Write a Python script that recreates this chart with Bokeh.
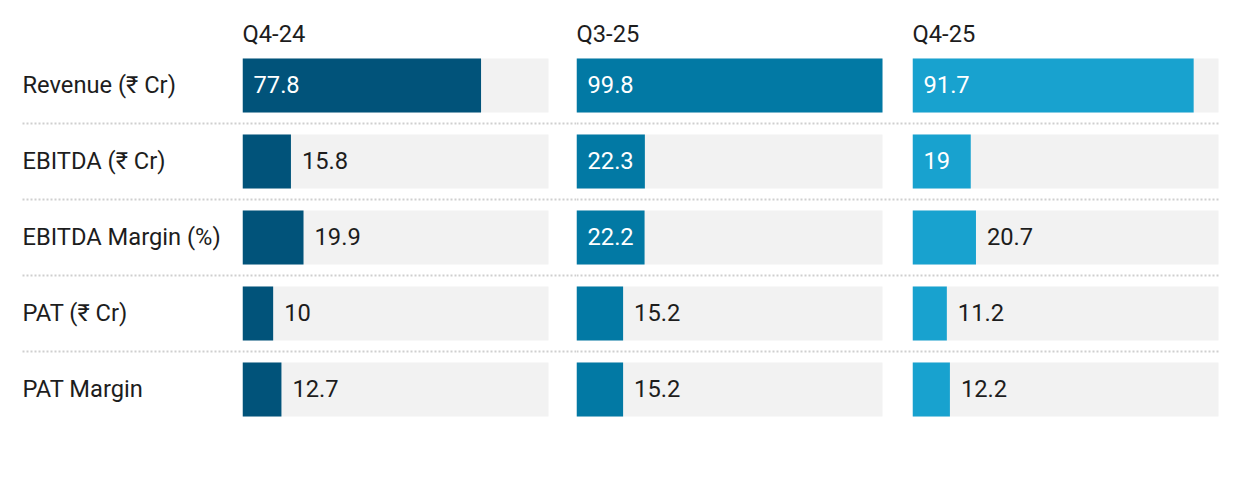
from bokeh.plotting import figure
from bokeh.layouts import row
from bokeh.models import Range1d
from bokeh.core.properties import value
from bokeh.embed import file_html
from bokeh.resources import INLINE

metrics = ["Revenue (₹ Cr)", "EBITDA (₹ Cr)", "EBITDA Margin (%)", "PAT (₹ Cr)", "PAT Margin"]
periods = ["Q4-24", "Q3-25", "Q4-25"]
q4_24 = [77.8, 15.8, 19.9, 10, 12.7]
q3_25 = [99.8, 22.3, 22.2, 15.2, 15.2]
q4_25 = [91.7, 19, 20.7, 11.2, 12.2]
series = [q4_24, q3_25, q4_25]
colors = ["#01537a", "#0279a4", "#18a2cf"]

FONT = "Roboto"
FS = "23.7px"
TXT = "#1d1d1d"
BG = "#f2f2f2"
SEP = "#cfcfcf"

H = 494
ROW_PX = 76
FIRST_ROW_PX = 85  # center of first row from top of figure
BAR_PX = 54
BAR_W = 306
LABEL_W = 242
COL_WS = [334, 336, 312]

vmax = max(max(s) for s in series)

def fmt(v):
    return ("%g" % v)

y_top = -FIRST_ROW_PX / ROW_PX
y_bot = (H - FIRST_ROW_PX) / ROW_PX
bar_h = BAR_PX / ROW_PX
rows_y = list(range(len(metrics)))
sep_y = [i + 0.5 for i in range(len(metrics) - 1)]
header_y = y_top + 33 / ROW_PX

def base_fig(width, xr):
    return figure(width=width, height=H, x_range=xr, y_range=Range1d(y_bot, y_top),
                  x_axis_type=None, y_axis_type=None, toolbar_location=None,
                  output_backend="svg", min_border=0, outline_line_color=None,
                  background_fill_color="white", border_fill_color="white")

# label column (pixel units)
pl = base_fig(LABEL_W, Range1d(0, LABEL_W))
pl.text(x=[22] * len(metrics), y=rows_y, text=metrics, y_offset=-1, text_font=value(FONT),
        text_font_size=FS, text_color=TXT, text_baseline="middle", text_align="left")
pl.segment(x0=[22] * len(sep_y), x1=[LABEL_W] * len(sep_y), y0=sep_y, y1=sep_y,
           line_color=SEP, line_width=2, line_dash="2 2")

figs = [pl]
for ci, (per, vals, col, cw) in enumerate(zip(periods, series, colors, COL_WS)):
    xend = vmax * cw / BAR_W
    p = base_fig(cw, Range1d(0, xend))
    sep_end = xend if ci < len(periods) - 1 else vmax
    p.segment(x0=[0] * len(sep_y), x1=[sep_end] * len(sep_y), y0=sep_y, y1=sep_y,
              line_color=SEP, line_width=2, line_dash="2 2")
    p.hbar(y=rows_y, left=0, right=vmax, height=bar_h, fill_color=BG, line_color=None)
    p.hbar(y=rows_y, left=0, right=vals, height=bar_h, fill_color=col, line_color=None)
    p.text(x=[0], y=[header_y], text=[per], text_font=value(FONT), text_font_size=FS,
           text_color=TXT, text_baseline="middle", text_align="left")
    px_per = BAR_W / vmax
    ins_x, ins_y, ins_t, out_x, out_y, out_t = [], [], [], [], [], []
    for i, v in enumerate(vals):
        t = fmt(v)
        tw = sum(6.3 if ch == "." else 13.3 for ch in t)
        if v * px_per >= tw + 20:
            ins_x.append(0); ins_y.append(i); ins_t.append(t)
        else:
            out_x.append(v); out_y.append(i); out_t.append(t)
    p.text(x=ins_x, y=ins_y, text=ins_t, x_offset=11, y_offset=-1, text_font=value(FONT),
           text_font_size=FS, text_color="white", text_baseline="middle", text_align="left")
    p.text(x=out_x, y=out_y, text=out_t, x_offset=11, y_offset=-1, text_font=value(FONT),
           text_font_size=FS, text_color=TXT, text_baseline="middle", text_align="left")
    figs.append(p)

layout = row(*figs)
open("out.html", "w").write(file_html(layout, INLINE))
